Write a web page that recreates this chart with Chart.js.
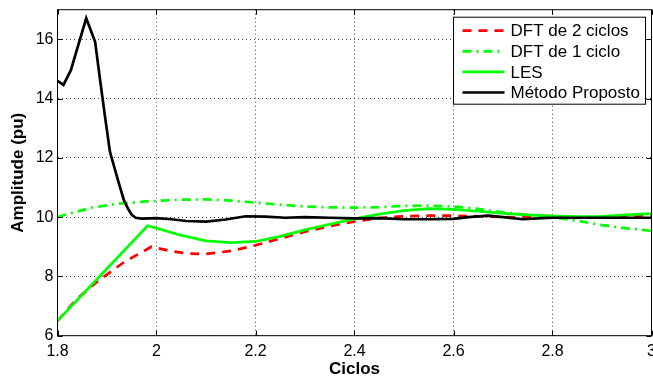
<!DOCTYPE html>
<html>
<head>
<meta charset="utf-8">
<script src="https://cdn.jsdelivr.net/npm/chart.js@4/dist/chart.umd.min.js"></script>
<style>
  html, body { margin: 0; padding: 0; background: #fff; }
  #wrap { width: 653px; height: 381px; }
</style>
</head>
<body>
<div id="wrap"><canvas id="chart"></canvas></div>
<script>
// values
const labels = ["DFT de 2 ciclos", "DFT de 1 ciclo", "LES", "Método Proposto"];

const dft2X = [1.8, 1.84, 1.88, 1.936, 1.99, 2.03, 2.064, 2.1, 2.15, 2.2, 2.25, 2.3, 2.35, 2.4, 2.45, 2.5, 2.55, 2.6, 2.65, 2.7, 2.8, 2.9, 3.0];
const dft2Y = [6.5, 7.25, 7.82, 8.5, 9.0, 8.85, 8.77, 8.76, 8.86, 9.05, 9.28, 9.51, 9.7, 9.85, 9.97, 10.03, 10.05, 10.05, 10.03, 10.0, 9.99, 10.0, 10.07];

const dft1X = [1.8, 1.83, 1.87, 1.92, 1.98, 2.05, 2.1, 2.15, 2.2, 2.25, 2.3, 2.35, 2.4, 2.45, 2.5, 2.55, 2.6, 2.65, 2.7, 2.75, 2.8, 2.85, 2.9, 2.95, 3.0];
const dft1Y = [10.0, 10.15, 10.32, 10.45, 10.53, 10.59, 10.6, 10.56, 10.49, 10.42, 10.36, 10.33, 10.32, 10.34, 10.38, 10.39, 10.36, 10.28, 10.16, 10.07, 10.0, 9.88, 9.73, 9.62, 9.54];

const lesX = [1.8, 1.982, 2.0, 2.047, 2.1, 2.15, 2.2, 2.25, 2.3, 2.35, 2.4, 2.45, 2.5, 2.55, 2.6, 2.65, 2.7, 2.75, 2.8, 2.85, 2.9, 2.95, 3.0];
const lesY = [6.5, 9.71, 9.63, 9.4, 9.2, 9.14, 9.18, 9.35, 9.57, 9.76, 9.94, 10.1, 10.22, 10.29, 10.26, 10.2, 10.13, 10.08, 10.04, 10.02, 10.03, 10.08, 10.12];

const propX = [1.8, 1.812, 1.827, 1.858, 1.876, 1.886, 1.896, 1.906, 1.923, 1.934, 1.942, 1.95, 1.958, 1.97, 2.0, 2.03, 2.06, 2.1, 2.14, 2.18, 2.22, 2.26, 2.3, 2.35, 2.4, 2.45, 2.5, 2.55, 2.6, 2.63, 2.67, 2.7, 2.74, 2.78, 2.8, 2.9, 3.0];
const propY = [14.6, 14.46, 14.96, 16.71, 15.92, 14.63, 13.39, 12.2, 11.2, 10.58, 10.3, 10.08, 9.98, 9.95, 9.97, 9.93, 9.87, 9.85, 9.92, 10.03, 10.02, 9.98, 10.0, 9.98, 9.96, 9.97, 9.93, 9.93, 9.94, 10.0, 10.05, 10.0, 9.93, 9.97, 9.98, 9.98, 9.98];

const xTicks = { min: 1.8, max: 3, step: 0.2 };
const yTicks = { min: 6, max: 17, step: 2 };

const FONT = "'Liberation Sans', Arial, sans-serif";

const toPoints = (xs, ys) => xs.map((x, i) => ({ x: x, y: ys[i] }));

const styles = [
  { color: "#ff0000", dash: [9, 7] },
  { color: "#00ff00", dash: [9, 5, 2, 5] },
  { color: "#00ff00", dash: [] },
  { color: "#000000", dash: [] },
];

const series = [
  toPoints(dft2X, dft2Y),
  toPoints(dft1X, dft1Y),
  toPoints(lesX, lesY),
  toPoints(propX, propY),
];

// box around the plot with inward ticks, like matlab
const framePlugin = {
  id: "frame",
  afterDatasetsDraw(chart) {
    const { ctx, chartArea: a } = chart;
    const xs = chart.scales.x, ys = chart.scales.y;
    ctx.save();
    ctx.strokeStyle = "#000";
    ctx.lineWidth = 1;
    ctx.setLineDash([]);
    ctx.strokeRect(a.left, a.top, a.right - a.left, a.bottom - a.top);
    ctx.beginPath();
    xs.ticks.forEach((t) => {
      const px = Math.round(xs.getPixelForValue(t.value)) + 0.5;
      ctx.moveTo(px, a.bottom); ctx.lineTo(px, a.bottom - 5);
      ctx.moveTo(px, a.top); ctx.lineTo(px, a.top + 5);
    });
    ys.ticks.forEach((t) => {
      const py = Math.round(ys.getPixelForValue(t.value)) + 0.5;
      ctx.moveTo(a.left, py); ctx.lineTo(a.left + 5, py);
      ctx.moveTo(a.right, py); ctx.lineTo(a.right - 5, py);
    });
    ctx.stroke();
    ctx.restore();
  },
  afterDraw(chart) {
    // legend box in the top right corner
    const { ctx, chartArea: a } = chart;
    const boxL = a.right - 198, boxT = a.top + 7.5, boxW = 192, boxH = 87;
    ctx.save();
    ctx.fillStyle = "#fff";
    ctx.fillRect(boxL, boxT, boxW, boxH);
    ctx.strokeStyle = "#000";
    ctx.lineWidth = 1;
    ctx.strokeRect(boxL, boxT, boxW, boxH);
    ctx.font = "17px " + FONT;
    ctx.textBaseline = "middle";
    ctx.fillStyle = "#000";
    labels.forEach((lab, i) => {
      const y = boxT + 13.5 + i * 20.6;
      ctx.beginPath();
      ctx.strokeStyle = styles[i].color;
      ctx.lineWidth = 2.7;
      ctx.setLineDash(styles[i].dash);
      ctx.moveTo(boxL + 9, y);
      ctx.lineTo(boxL + 51, y);
      ctx.stroke();
      ctx.setLineDash([]);
      ctx.fillText(lab, boxL + 57, y + 1);
    });
    ctx.restore();
  },
};

new Chart(document.getElementById("chart"), {
  type: "line",
  data: {
    datasets: series.map((pts, i) => ({
      label: labels[i],
      data: pts,
      borderColor: styles[i].color,
      borderDash: styles[i].dash,
      borderWidth: 2.7,
      pointRadius: 0,
      tension: 0,
      fill: false,
      order: labels.length - i, // later series drawn on top
    })),
  },
  options: {
    responsive: true,
    maintainAspectRatio: false,
    animation: false,
    layout: { padding: { top: 9.7, right: 1.5, left: 0, bottom: 0 } },
    plugins: {
      legend: { display: false },
      tooltip: { enabled: false },
    },
    scales: {
      x: {
        type: "linear",
        min: xTicks.min,
        max: xTicks.max,
        ticks: {
          stepSize: xTicks.step,
          color: "#000",
          padding: 6,
          maxRotation: 0,
          font: { family: FONT, size: 16 },
          callback: (v) => String(Math.round(v * 10) / 10),
        },
        grid: { color: "#444", lineWidth: 1, drawTicks: false },
        border: { display: false, dash: [1, 3] },
        title: {
          display: true,
          text: "Ciclos",
          color: "#000",
          font: { family: FONT, size: 17, weight: "bold" },
          padding: { top: 0, bottom: 1 },
        },
        afterFit: (s) => {
          s.height = 45.3;
          s.paddingLeft = 0;
          s.paddingRight = 0;
        },
      },
      y: {
        min: yTicks.min,
        max: yTicks.max,
        ticks: {
          stepSize: yTicks.step,
          includeBounds: false,
          color: "#000",
          padding: 4,
          font: { family: FONT, size: 16 },
        },
        grid: { color: "#444", lineWidth: 1, drawTicks: false },
        border: { display: false, dash: [1, 3] },
        title: {
          display: true,
          text: "Amplitude (pu)",
          color: "#000",
          font: { family: FONT, size: 17, weight: "bold" },
          padding: { top: 8, bottom: 0 },
        },
        afterFit: (s) => {
          s.width = 57.5;
          s.paddingTop = 0;
          s.paddingBottom = 0;
        },
      },
    },
  },
  plugins: [framePlugin],
});
</script>
</body>
</html>
